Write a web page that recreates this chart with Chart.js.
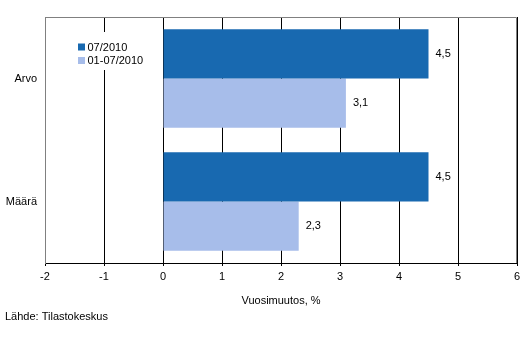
<!DOCTYPE html>
<html>
<head>
<meta charset="utf-8">
<script src="https://cdn.jsdelivr.net/npm/chart.js@4/dist/chart.umd.min.js"></script>
<style>
html,body{margin:0;padding:0;background:#fff;}
#wrap{width:529px;height:356px;}
</style>
</head>
<body>
<div id="wrap"><canvas id="c" width="529" height="356"></canvas></div>
<script>
const categories = ["Arvo", "Määrä"];
const seriesNames = ["07/2010", "01-07/2010"];
const values0710 = [4.5, 4.5];
const values010710 = [3.1, 2.3];
const xTicks = [-2, -1, 0, 1, 2, 3, 4, 5, 6];
const axisTitle = "Vuosimuutos, %";
const sourceText = "Lähde: Tilastokeskus";

const FONT = "'Liberation Sans', Arial, sans-serif";
const colors = ["#1869B0", "#A7BDEA"];

const extras = {
  id: 'extras',
  afterDatasetsDraw(chart) {
    const ctx = chart.ctx;
    const a = chart.chartArea;
    ctx.save();
    // top & right border
    ctx.strokeStyle = '#808080';
    ctx.lineWidth = 1;
    ctx.beginPath();
    ctx.moveTo(Math.round(a.left) + 0.5, Math.round(a.top) + 0.5);
    ctx.lineTo(Math.round(a.right) - 0.5, Math.round(a.top) + 0.5);
    ctx.lineTo(Math.round(a.right) - 0.5, Math.round(a.bottom));
    ctx.stroke();
    // data labels
    ctx.fillStyle = '#000';
    ctx.font = '11px ' + FONT;
    ctx.textAlign = 'left';
    ctx.textBaseline = 'middle';
    chart.data.datasets.forEach((ds, di) => {
      const meta = chart.getDatasetMeta(di);
      meta.data.forEach((bar, i) => {
        const v = ds.data[i];
        ctx.fillText(String(v.toFixed(1)).replace('.', ','), bar.x + 7, bar.y);
      });
    });
    // legend
    const lx = a.left + 33, ly = a.top + 30;
    ctx.fillStyle = '#fff';
    ctx.fillRect(lx - 4, ly - 15, 70, 38);
    chart.data.datasets.forEach((ds, di) => {
      const y = ly + di * 13.5;
      ctx.fillStyle = ds.backgroundColor;
      ctx.fillRect(lx, y - 3.5, 7, 7);
      ctx.fillStyle = '#000';
      ctx.fillText(ds.label, lx + 9.5, y + 0.5);
    });
    // source
    ctx.textAlign = 'left';
    ctx.fillText(sourceText, 5, 316.5);
    ctx.restore();
  }
};

new Chart(document.getElementById('c'), {
  type: 'bar',
  data: {
    labels: categories,
    datasets: [
      { label: seriesNames[0], data: values0710, backgroundColor: colors[0], borderWidth: 0 },
      { label: seriesNames[1], data: values010710, backgroundColor: colors[1], borderWidth: 0 }
    ]
  },
  options: {
    indexAxis: 'y',
    responsive: false,
    animation: false,
    devicePixelRatio: 1,
    categoryPercentage: 0.8,
    barPercentage: 1.0,
    layout: { padding: { top: 17, right: 12, left: 0, bottom: 0 } },
    plugins: { legend: { display: false }, tooltip: { enabled: false } },
    scales: {
      x: {
        type: 'linear',
        min: xTicks[0],
        max: xTicks[xTicks.length - 1],
        afterBuildTicks(scale) { scale.ticks = xTicks.map(v => ({ value: v })); },
        afterFit(scale) { scale.height = 93; },
        ticks: {
          color: '#000',
          font: { family: FONT, size: 11 },
          padding: 4,
          maxRotation: 0,
          callback: v => String(v)
        },
        grid: {
          color: ctx => (ctx.tick && ctx.tick.value === xTicks[0]) ? 'rgba(0,0,0,0)' : '#000',
          tickColor: '#000',
          lineWidth: 1,
          tickLength: 3,
          drawTicks: true
        },
        border: { display: true, color: '#000', width: 1 },
        title: {
          display: true,
          text: axisTitle,
          color: '#000',
          font: { family: FONT, size: 11 },
          padding: { top: 4, bottom: 48.5 }
        }
      },
      y: {
        type: 'category',
        afterFit(scale) { scale.width = 45; },
        ticks: {
          color: '#000',
          font: { family: FONT, size: 11 },
          padding: 8
        },
        grid: { display: false, drawTicks: false },
        border: { display: true, color: '#808080', width: 1 }
      }
    }
  },
  plugins: [extras]
});
</script>
</body>
</html>
